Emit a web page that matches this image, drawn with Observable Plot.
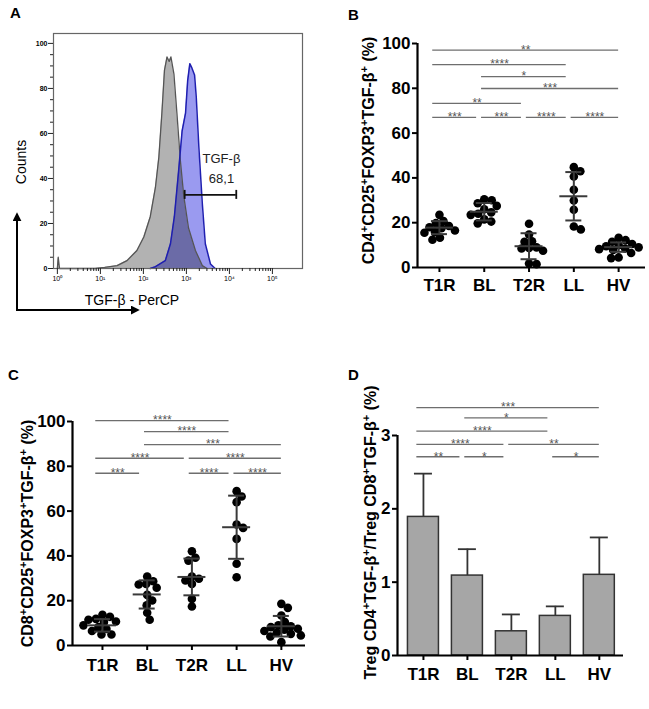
<!DOCTYPE html>
<html><head><meta charset="utf-8">
<script src="https://cdn.jsdelivr.net/npm/d3@7"></script>
<script src="https://cdn.jsdelivr.net/npm/@observablehq/plot@0.6"></script>
<style>
html,body{margin:0;padding:0;background:#fff}
#root{position:relative;width:649px;height:709px;overflow:hidden;font-family:"Liberation Sans",Arial,sans-serif}
.panel{position:absolute}
.panel svg{overflow:visible;display:block}
#overlay{position:absolute;left:0;top:0;pointer-events:none}
</style></head><body><div id="root">
<div class="panel" id="pA" style="left:0;top:0"></div>
<div class="panel" id="pB" style="left:320px;top:0"></div>
<div class="panel" id="pC" style="left:0;top:330px"></div>
<div class="panel" id="pD" style="left:320px;top:330px"></div>
<svg id="overlay" width="649" height="709" font-family="Liberation Sans, Arial, sans-serif">
<defs><marker id="ah" viewBox="0 0 10 10" refX="8" refY="5" markerWidth="4.5" markerHeight="4.5" orient="auto-start-reverse"><path d="M0,0 L10,5 L0,10 z" fill="#000"/></marker></defs>
<text x="10" y="18" font-weight="bold" font-size="15">A</text>
<text x="348" y="20" font-weight="bold" font-size="15">B</text>
<text x="8" y="380" font-weight="bold" font-size="15">C</text>
<text x="348" y="380" font-weight="bold" font-size="15">D</text>
<text transform="translate(26,162) rotate(-90)" text-anchor="middle" font-size="14">Counts</text>
<polyline points="17,214 17,310 138,310" fill="none" stroke="#000" stroke-width="2" marker-start="url(#ah)" marker-end="url(#ah)"/>
<text x="132" y="305" text-anchor="middle" font-size="14">TGF-β  -  PerCP</text>
</svg>
</div>
<script>
const FONT = '"Liberation Sans", Arial, Helvetica, sans-serif';
const groups = ["T1R", "BL", "T2R", "LL", "HV"];

// ---- Panel A: histogram (x = log10 intensity) ----
const decadeTicks = [0, 1, 2, 3, 4, 5];
const decadeLabels = ["10⁰", "10¹", "10²", "10³", "10⁴", "10⁵"];
const countTicks = [0, 20, 40, 60, 80, 100];
const grayLog   = [0.00, 0.02, 0.05, 0.88, 1.10, 1.39, 1.62, 1.85, 2.01, 2.16, 2.28, 2.36, 2.43, 2.49, 2.55, 2.60, 2.64, 2.71, 2.78, 2.86, 2.94, 3.05, 3.21, 3.37, 3.48];
const grayCount = [0,    5,    0,    0,    0.5,  1.3,  3.5,  8,    14,   23,   36,   49.5, 69,   88,   94,   92,   94,   86.5, 69,   48,   32,   18,   8,    1.3,  0];
const blueLog   = [2.16, 2.28, 2.51, 2.63, 2.72, 2.82, 2.90, 2.98, 3.03, 3.08, 3.13, 3.19, 3.23, 3.29, 3.37, 3.44, 3.56, 3.67];
const blueCount = [0,    0.8,  3.5,  11,   23,   43.5, 61,   69,   83.5, 91,   89,   86,   76,   54,   29,   11,   2,    0];
const gateFrom = 2.96, gateTo = 4.16, gateLevel = 32.7;
const gateName = "TGF-β", gateValue = "68,1";

// ---- Panel B: CD4+CD25+FOXP3+TGF-b+ (%) ----
const bT1R = [23.5, 20.7, 19.8, 18.5, 18.0, 17.5, 16.5, 15.8, 15.5, 13.3, 12.4];
const bBL  = [30.5, 30.0, 28.7, 27.5, 26.0, 24.6, 24.0, 23.5, 21.5, 20.5, 19.7];
const bT2R = [19.5, 14.7, 11.7, 11.5, 9.0, 8.7, 8.5, 7.5, 1.8, 1.5];
const bLL  = [44.8, 43.0, 40.6, 34.7, 29.9, 25.8, 18.3, 17.0];
const bHV  = [13.3, 12.2, 11.5, 10.5, 10.0, 9.5, 9.0, 8.5, 8.2, 7.8, 6.5, 4.5, 4.2];
const bMean = [17.8, 24.9, 9.5, 31.8, 9.1];
const bSD   = [2.9, 3.9, 5.8, 10.8, 2.1];
const sigBFrom  = ["T1R", "T1R", "BL", "BL", "T1R", "T1R", "BL", "T2R", "LL"];
const sigBTo    = ["HV", "LL", "LL", "HV", "T2R", "BL", "T2R", "LL", "HV"];
const sigBLevel = [97, 90.6, 85.2, 79.9, 73.3, 67, 67, 67, 67];
const sigBStars = ["**", "****", "*", "***", "**", "***", "***", "****", "****"];

// ---- Panel C: CD8+CD25+FOXP3+TGF-b+ (%) ----
const cT1R = [13.7, 12.8, 11.9, 11.5, 10.7, 10.5, 9.0, 8.2, 7.4, 6.5, 4.9, 4.9];
const cBL  = [30.8, 28.7, 27.5, 27.2, 25.8, 22.6, 20.1, 17.9, 14.6, 11.5];
const cT2R = [42.1, 39.2, 37.9, 30.8, 29.8, 29.0, 27.5, 20.8, 17.4];
const cLL  = [68.9, 66.5, 64.0, 54.0, 52.5, 47.6, 36.5, 30.5];
const cHV  = [18.6, 16.8, 13.4, 10.5, 9.0, 8.6, 8.2, 7.5, 7.0, 6.5, 5.8, 5.2, 4.5, 4.0, 1.5];
const cMean = [9.0, 22.8, 30.6, 52.8, 8.6];
const cSD   = [2.8, 6.3, 8.2, 14.1, 4.6];
const sigCFrom  = ["T1R", "BL", "BL", "T1R", "T2R", "T1R", "T2R", "LL"];
const sigCTo    = ["LL", "LL", "HV", "T2R", "HV", "BL", "LL", "HV"];
const sigCLevel = [100.4, 95.5, 89.7, 83.6, 83.6, 76.9, 76.9, 76.9];
const sigCStars = ["****", "****", "***", "****", "****", "***", "****", "****"];

// ---- Panel D: ratio ----
const dMean = [1.89, 1.09, 0.33, 0.54, 1.10];
const dSD   = [0.59, 0.36, 0.23, 0.13, 0.51];
const sigDFrom  = ["T1R", "BL", "T1R", "T1R", "T2R", "T1R", "BL", "LL"];
const sigDTo    = ["HV", "LL", "LL", "T2R", "HV", "BL", "T2R", "HV"];
const sigDLevel = [3.38, 3.24, 3.06, 2.88, 2.88, 2.71, 2.71, 2.71];
const sigDStars = ["***", "*", "****", "****", "**", "**", "*", "*"];

const pctTicks = [0, 20, 40, 60, 80, 100];
const ratioTicks = [0, 1, 2, 3];
const labelB = "CD4^+CD25^+FOXP3^+TGF-β^+ (%)";
const labelC = "CD8^+CD25^+FOXP3^+TGF-β^+ (%)";
const labelD = "Treg CD4^+TGF-β^+/Treg CD8^+TGF-β^+ (%)";

// ---------- helpers ----------
function supify(svg) {
  const ns = "http://www.w3.org/2000/svg";
  svg.querySelectorAll("text").forEach(t => {
    if (!t.textContent.includes("^+")) return;
    const parts = t.textContent.split("^+");
    t.textContent = "";
    parts.forEach((p, i) => {
      if (i > 0) {
        const s = document.createElementNS(ns, "tspan");
        s.setAttribute("dy", "-6"); s.setAttribute("font-size", "11");
        s.textContent = "+"; t.appendChild(s);
      }
      if (p.length) {
        const n = document.createElementNS(ns, "tspan");
        if (i > 0) n.setAttribute("dy", "6");
        n.textContent = p; t.appendChild(n);
      }
    });
  });
  return svg;
}

function swarmOffsets(vals, r, pxPerUnit) {
  const order = d3.range(vals.length).sort((a, b) => vals[b] - vals[a]);
  const placed = [], off = new Array(vals.length).fill(0);
  const minD = 2 * r * 0.85;
  for (const i of order) {
    const y = vals[i] * pxPerUnit;
    let best = 0;
    for (let k = 0; k < 400; k++) {
      const o = (k % 2 ? 1 : -1) * Math.ceil(k / 2) * 0.5;
      if (placed.every(p => (p.x - o) ** 2 + (p.y - y) ** 2 >= minD * minD)) { best = o; break; }
    }
    placed.push({x: best, y}); off[i] = best;
  }
  return off;
}

function sigRows(from, to, level, stars) {
  return from.map((a, k) => {
    const ia = groups.indexOf(a), ib = groups.indexOf(to[k]);
    const x1 = ia - (ia === 0 ? 0.15 : 0.06);
    const x2 = ib - (ib === groups.length - 1 ? 0 : 0.17);
    return {x1, x2, xm: (x1 + x2) / 2, y: level[k], s: stars[k]};
  });
}

function baseStyle(fs) {
  return {fontFamily: FONT, fontSize: fs + "px", fontWeight: "bold", color: "#000", background: "transparent", overflow: "visible"};
}

function categoryMarks(cfg) {
  const {xDom, yTicks, yLabel, labelDx, labelDy, tickPad, sig} = cfg;
  return [
    Plot.ruleY(sig, {y: "y", x1: "x1", x2: "x2", stroke: "#6e6e6e", strokeWidth: 1.3}),
    Plot.text(sig, {x: "xm", y: "y", text: "s", fontSize: 12, fontWeight: "normal", fill: "#555"}),
    Plot.ruleY([0], {stroke: "#000", strokeWidth: 2.2}),
    Plot.ruleX([xDom[0]], {stroke: "#000", strokeWidth: 2.2}),
    Plot.axisY({ticks: yTicks, tickFormat: d => String(d), tickSize: 5, tickPadding: 2, strokeWidth: 2, fontSize: 17, fontWeight: "bold", label: null}),
    Plot.axisX({ticks: d3.range(groups.length), tickFormat: i => groups[i], tickSize: 5, tickPadding: tickPad, strokeWidth: 2, fontSize: 17, fontWeight: "bold", label: null}),
    Plot.text([yLabel], {text: d => d, frameAnchor: "left", textAnchor: "middle", lineAnchor: "middle", rotate: -90, dx: labelDx, dy: labelDy, fontSize: 16, fontWeight: "bold"})
  ];
}

function scatterPanel(cfg) {
  const {vals, mean, sd, W, H, ML, MR, MT, MB, xDom, yMax} = cfg;
  const pxPerIdx = (W - ML - MR) / (xDom[1] - xDom[0]);
  const pxPerUnit = (H - MT - MB) / yMax;
  const points = [];
  groups.forEach((g, i) => {
    const off = swarmOffsets(vals[i], 4.3, pxPerUnit);
    vals[i].forEach((v, j) => points.push({g, v, x: i + off[j] / pxPerIdx}));
  });
  const stats = groups.map((g, i) => ({i, m: mean[i], lo: mean[i] - sd[i], hi: mean[i] + sd[i]}));
  const meanW = 14 / pxPerIdx, capW = 8 / pxPerIdx;
  const ebar = {stroke: "#3a3a3a", strokeWidth: 2};
  const svg = Plot.plot({
    width: W, height: H, marginLeft: ML, marginRight: MR, marginTop: MT, marginBottom: MB,
    style: baseStyle(17),
    x: {domain: xDom},
    y: {domain: [0, yMax]},
    marks: [
      Plot.dot(points, {x: "x", y: "v", r: 4.3, fill: "#000", stroke: "none"}),
      Plot.ruleX(stats, {x: "i", y1: "lo", y2: "hi", ...ebar}),
      Plot.ruleY(stats, {y: "hi", x1: d => d.i - capW, x2: d => d.i + capW, ...ebar}),
      Plot.ruleY(stats, {y: "lo", x1: d => d.i - capW, x2: d => d.i + capW, ...ebar}),
      Plot.ruleY(stats, {y: "m", x1: d => d.i - meanW, x2: d => d.i + meanW, ...ebar}),
      ...categoryMarks(cfg)
    ]
  });
  return supify(svg);
}

// ---------- Panel A ----------
const grayData = grayLog.map((x, i) => ({x, y: grayCount[i]}));
const blueData = blueLog.map((x, i) => ({x, y: blueCount[i]}));
const aXDom = [-0.09, 5.7];
const minorX = decadeTicks.slice(0, -1).flatMap(k => d3.range(2, 10).map(m => k + Math.log10(m)));
const minorY = d3.range(5, 100, 5).filter(v => v % 20 !== 0);
const svgA = Plot.plot({
  width: 320, height: 300, marginLeft: 53, marginRight: 18, marginTop: 33, marginBottom: 32,
  style: {...baseStyle(7), fontWeight: "normal"},
  x: {domain: aXDom},
  y: {domain: [0, 104.4]},
  marks: [
    Plot.areaY(blueData, {x: "x", y: "y", fill: "#9a9af0"}),
    Plot.areaY(grayData, {x: "x", y: "y", fill: "#000", fillOpacity: 0.3}),
    Plot.lineY(grayData, {x: "x", y: "y", stroke: "#555", strokeWidth: 1.3}),
    Plot.lineY(blueData, {x: "x", y: "y", stroke: "#1f1fb0", strokeWidth: 1.5}),
    Plot.frame({stroke: "#666", strokeWidth: 1.2}),
    Plot.axisY({ticks: countTicks, tickSize: 5, tickPadding: 1, fontSize: 7, fontWeight: "bold", stroke: "#222", label: null}),
    Plot.ruleY(minorY, {x1: aXDom[0], x2: aXDom[0], insetLeft: -3, stroke: "#222"}),
    Plot.axisX({ticks: decadeTicks, tickFormat: k => decadeLabels[k], tickSize: 6, tickPadding: 2, fontSize: 7, stroke: "#222", label: null}),
    Plot.ruleX(minorX, {y1: 0, y2: 0, insetBottom: -3, stroke: "#222"}),
    Plot.ruleY([gateLevel], {x1: gateFrom, x2: gateTo, stroke: "#111", strokeWidth: 1.8}),
    Plot.ruleX([gateFrom, gateTo], {y1: gateLevel - 2, y2: gateLevel + 2, stroke: "#111", strokeWidth: 1.8}),
    Plot.text([gateName], {text: d => d, x: (gateFrom + gateTo) / 2, y: gateLevel, dx: 11, dy: -36, fontSize: 13, fill: "#222"}),
    Plot.text([gateValue], {text: d => d, x: (gateFrom + gateTo) / 2, y: gateLevel, dx: 11, dy: -16, fontSize: 13, fill: "#222"})
  ]
});
document.getElementById("pA").appendChild(svgA);

// ---------- Panel B ----------
document.getElementById("pB").appendChild(scatterPanel({
  vals: [bT1R, bBL, bT2R, bLL, bHV], mean: bMean, sd: bSD,
  sig: sigRows(sigBFrom, sigBTo, sigBLevel, sigBStars),
  W: 329, H: 300, ML: 97, MR: 4, MT: 43, MB: 33, xDom: [-0.49, 4.60], yMax: 100,
  yTicks: pctTicks, yLabel: labelB, labelDx: -49, labelDy: -5, tickPad: 6
}));

// ---------- Panel C ----------
document.getElementById("pC").appendChild(scatterPanel({
  vals: [cT1R, cBL, cT2R, cLL, cHV], mean: cMean, sd: cSD,
  sig: sigRows(sigCFrom, sigCTo, sigCLevel, sigCStars),
  W: 320, H: 379, ML: 72, MR: 15, MT: 91, MB: 64, xDom: [-0.67, 4.54], yMax: 100,
  yTicks: pctTicks, yLabel: labelC, labelDx: -45, labelDy: 0, tickPad: 8
}));

// ---------- Panel D ----------
(function () {
  const W = 329, H = 379, ML = 77, MR = 26, MT = 105, MB = 54, xDom = [-0.59, 4.55], yMax = 3;
  const pxPerIdx = (W - ML - MR) / (xDom[1] - xDom[0]);
  const half = 15.5 / pxPerIdx, capW = 9 / pxPerIdx;
  const bars = groups.map((g, i) => ({g, i, m: dMean[i], hi: dMean[i] + dSD[i]}));
  const ebar = {stroke: "#333", strokeWidth: 1.8};
  const svg = Plot.plot({
    width: W, height: H, marginLeft: ML, marginRight: MR, marginTop: MT, marginBottom: MB,
    style: baseStyle(17),
    x: {domain: xDom},
    y: {domain: [0, yMax]},
    marks: [
      Plot.ruleX(bars, {x: "i", y1: "m", y2: "hi", ...ebar}),
      Plot.ruleY(bars, {y: "hi", x1: d => d.i - capW, x2: d => d.i + capW, ...ebar}),
      Plot.rectY(bars, {x1: d => d.i - half, x2: d => d.i + half, y1: 0, y2: "m", fill: "#a6a6a6", stroke: "#333", strokeWidth: 1.5}),
      ...categoryMarks({xDom, yTicks: ratioTicks, yLabel: labelD, labelDx: -27, labelDy: -13, tickPad: 7,
        sig: sigRows(sigDFrom, sigDTo, sigDLevel, sigDStars)})
    ]
  });
  document.getElementById("pD").appendChild(supify(svg));
})();
</script>
</body></html>
